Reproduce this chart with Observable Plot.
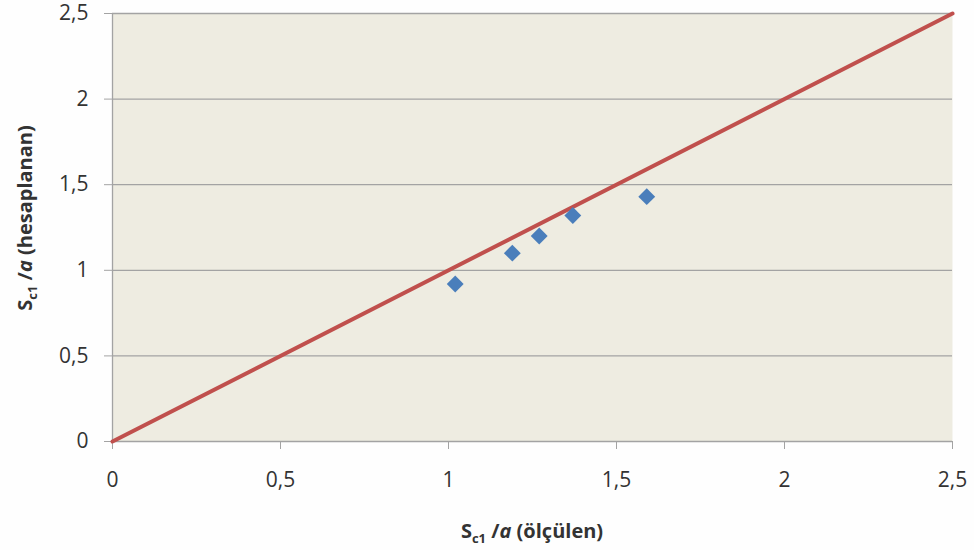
<!DOCTYPE html>
<html>
<head>
<meta charset="utf-8">
<script src="https://cdn.jsdelivr.net/npm/d3@7"></script>
<script src="https://cdn.jsdelivr.net/npm/@observablehq/plot@0.6"></script>
<style>
  html, body { margin: 0; padding: 0; background: #fefefe; }
  #chart svg { display: block; }
</style>
</head>
<body>
<div id="chart"></div>
<script>
// Data
const measured = [1.02, 1.19, 1.27, 1.37, 1.59];     // S_c1/a (ölçülen)
const calculated = [0.92, 1.10, 1.20, 1.32, 1.43];   // S_c1/a (hesaplanan)
const refX = [0, 2.5];
const refY = [0, 2.5];
const tickValues = [0, 0.5, 1, 1.5, 2, 2.5];

const points = measured.map((m, i) => ({x: m, y: calculated[i]}));
const refLine = refX.map((v, i) => ({x: v, y: refY[i]}));
const fmt = d => String(d).replace(".", ",");

const chart = Plot.plot({
  width: 974,
  height: 550,
  marginLeft: 112,
  marginRight: 22,
  marginTop: 13,
  marginBottom: 109,
  style: {fontFamily: "'Open Sans', sans-serif", fontSize: "21px", background: "#fefefe", color: "#333333"},
  x: {domain: [0, 2.5]},
  y: {domain: [0, 2.5]},
  marks: [
    Plot.frame({fill: "#EEECE1", stroke: null}),
    Plot.ruleY(tickValues, {stroke: "#A3A3A3", strokeWidth: 1.3}),
    Plot.ruleX([0], {stroke: "#A3A3A3", strokeWidth: 1.3}),
    Plot.axisX({ticks: tickValues, tickFormat: fmt, tickSize: 8, tickPadding: 23, label: null,
      stroke: "#A3A3A3", fill: "#333333", fontSize: 21}),
    Plot.axisY({ticks: tickValues, tickFormat: fmt, tickSize: 8, tickPadding: 16, label: null,
      stroke: "#A3A3A3", fill: "#333333", fontSize: 21}),
    Plot.line(refLine, {x: "x", y: "y", stroke: "#C0504D", strokeWidth: 4}),
    Plot.dot(points, {x: "x", y: "y", symbol: "diamond2", r: 7.6, fill: "#4A7EBB", stroke: "none"})
  ]
});

document.getElementById("chart").appendChild(chart);

// Axis titles with subscripts
const svg = d3.select(chart);
function addTitle(g, suffix) {
  const t = g.append("text")
    .attr("fill", "#333333")
    .attr("font-weight", "bold")
    .attr("font-size", 20)
    .attr("font-family", "'Open Sans', sans-serif")
    .attr("text-anchor", "middle");
  t.append("tspan").text("S");
  t.append("tspan").attr("font-size", 13).attr("dy", 5).text("c1");
  t.append("tspan").attr("dy", -5).text(" /");
  t.append("tspan").attr("font-style", "italic").text("a");
  t.append("tspan").text(" " + suffix);
  return t;
}
addTitle(svg.append("g").attr("transform", "translate(532,538)"), "(ölçülen)");
addTitle(svg.append("g").attr("transform", "translate(32,218) rotate(-90)"), "(hesaplanan)");
</script>
</body>
</html>
